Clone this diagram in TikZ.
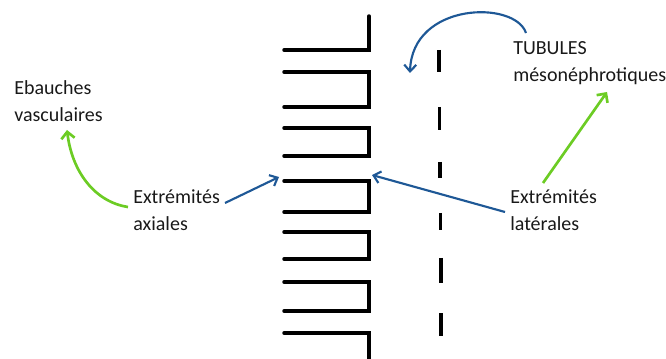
\documentclass[tikz,border=0pt]{standalone}
\usepackage{fontspec}
\setmainfont{Carlito}
\usetikzlibrary{arrows.meta}
\definecolor{arrowblue}{RGB}{30,88,150}
\definecolor{arrowgreen}{RGB}{108,204,36}
\definecolor{textgray}{RGB}{25,25,25}
\begin{document}
\begin{tikzpicture}[x=0.75pt,y=-0.75pt,
  comb/.style={line width=2.6pt,line cap=round,line join=miter},
  dashseg/.style={line width=2.4pt},
  bluearrow/.style={arrowblue,line width=1.6pt,-{Straight Barb[length=5pt,width=9pt]}},
  greenarrow/.style={arrowgreen,line width=2pt,-{Straight Barb[length=5pt,width=10pt]}},
  lbl/.style={font=\fontsize{15}{20}\selectfont,text=textgray,align=left,anchor=west,inner sep=0pt}]
\useasboundingbox (0,0) rectangle (666,359);
% comb
\draw[comb] (369,16) -- (369,50) -- (284,50);
\foreach \t/\b in {72/107,128/156,181/212,232/259,282/311}
  \draw[comb] (284,\t) -- (369,\t) -- (369,\b) -- (284,\b);
\draw[comb] (284,333) -- (369,333) -- (369,362);
% dashed line
\foreach \s/\e/\x in {50/72/439,107/130/439.5,162/178/440,213/230/440.5,258/283/441,313/336/441}
  \draw[dashseg] (\x,\s) -- (\x,\e);
% labels
\node[lbl] (ebauches) at (14,101) {Ebauches\\vasculaires};
\node[lbl] (axiales) at (133,210) {Extrémités\\axiales};
\node[lbl] (tubules) at (513,63) {TUBULES\\mésonéphrotiques};
\node[lbl] (laterales) at (510,210) {Extrémités\\latérales};
% arrow points
\coordinate (axS) at (225,203);
\coordinate (axE) at (279,177);
\coordinate (latS) at (505,212);
\coordinate (latE) at (372,175);
\coordinate (tuS) at (526,33);
\coordinate (tuE) at (410,73);
\coordinate (grS) at (128,207);
\coordinate (grE) at (67,130);
\coordinate (g2S) at (543,183);
\coordinate (g2E) at (607,92);
% arrows
\draw[bluearrow] (axS) -- (axE);
\draw[bluearrow] (latS) -- (latE);
\draw[bluearrow] (tuS) .. controls (515,0) and (412,2) .. (tuE);
\draw[greenarrow] (grS) .. controls (95,202) and (72,172) .. (grE);
\draw[greenarrow] (g2S) -- (g2E);
\end{tikzpicture}
\end{document}
